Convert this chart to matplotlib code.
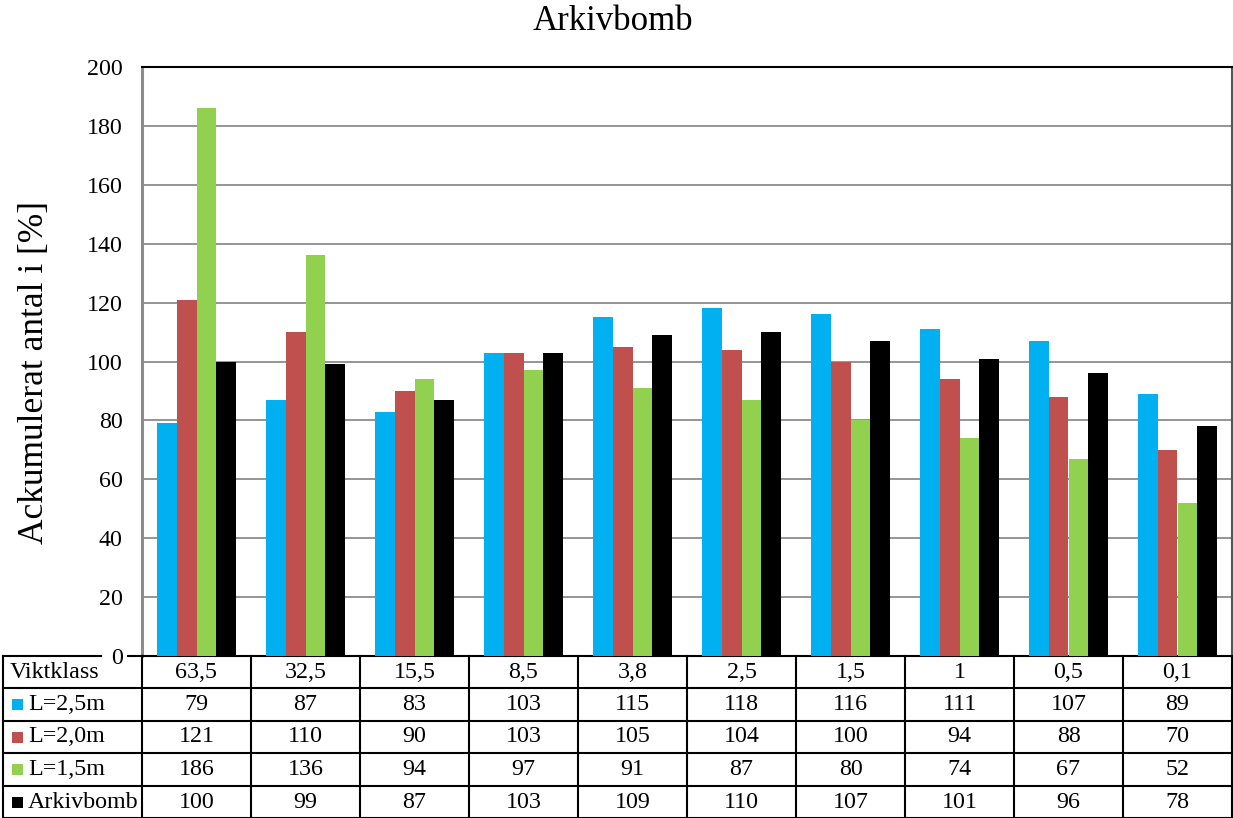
import matplotlib
matplotlib.use("Agg")
import matplotlib.pyplot as plt
from matplotlib.lines import Line2D
from matplotlib.patches import Rectangle
from matplotlib.transforms import blended_transform_factory

plt.rcParams['font.family'] = ['Liberation Serif', 'DejaVu Serif']

title = "Arkivbomb"
ylabel = "Ackumulerat antal i [%]"
row_header = "Viktklass"
categories = ["63,5", "32,5", "15,5", "8,5", "3,8", "2,5", "1,5", "1", "0,5", "0,1"]
series_names = ["L=2,5m", "L=2,0m", "L=1,5m", "Arkivbomb"]
l25 = [79, 87, 83, 103, 115, 118, 116, 111, 107, 89]
l20 = [121, 110, 90, 103, 105, 104, 100, 94, 88, 70]
l15 = [186, 136, 94, 97, 91, 87, 80, 74, 67, 52]
arkivbomb = [100, 99, 87, 103, 109, 110, 107, 101, 96, 78]
colors = ["#00B0F0", "#C0504D", "#92D050", "#000000"]
yticks = [0, 20, 40, 60, 80, 100, 120, 140, 160, 180, 200]

series = [l25, l20, l15, arkivbomb]

W, H = 1233, 818
fig = plt.figure(figsize=(W / 100, H / 100), dpi=100)

# plot area in pixel coordinates
left, right, top, bottom = 142, 1232, 67, 656
ax = fig.add_axes([left / W, (H - bottom) / H, (right - left) / W, (bottom - top) / H])

n = len(categories)
x = list(range(n))
bw = 0.183
for k, (vals, col) in enumerate(zip(series, colors)):
    off = (k - 1.5) * bw
    ax.bar([xi + off for xi in x], vals, width=bw, color=col, edgecolor='none', zorder=3)

fs = 17.3
ax.set_xlim(-0.5, n - 0.5)
ax.set_ylim(0, 200)
ax.set_yticks(yticks)
ax.set_yticklabels([str(v) for v in yticks], fontsize=fs)
ax.tick_params(axis='y', length=0, pad=14)
ax.set_xticks([])
ax.grid(axis='y', color='#8C8C8C', linewidth=1.3, zorder=0)
ax.set_axisbelow(True)
ax.spines['left'].set_color('#8C8C8C')
ax.spines['left'].set_linewidth(2.2)
for s in ('top', 'right', 'bottom'):
    ax.spines[s].set_color('#000000')
    ax.spines[s].set_linewidth(1.5)
ax.spines['right'].set_color('#555555')

fig.text(0.497, 1 - 22 / H, title, ha='center', va='center', fontsize=25)
fig.text(35 / W, 1 - 372 / H, ylabel, ha='center', va='center', rotation=90, fontsize=25.5)

# data table below the plot
row_edges = [656, 688, 721, 753, 786, 818]
fy = lambda p: 1 - p / H
fx = lambda p: p / W
tr = blended_transform_factory(ax.transData, fig.transFigure)
lw = 1.5

# horizontal lines
for i, yp in enumerate(row_edges):
    if i == 0:
        # label column top border, interrupted by the zero tick label
        fig.add_artist(Line2D([fx(3), fx(101)], [fy(yp), fy(yp)], color='black', lw=lw))
        fig.add_artist(Line2D([fx(128), fx(left)], [fy(yp), fy(yp)], color='black', lw=lw))
    else:
        fig.add_artist(Line2D([fx(3), fx(right)], [fy(yp), fy(yp)], color='black', lw=lw))

# vertical lines
fig.add_artist(Line2D([fx(3), fx(3)], [fy(656), fy(818)], color='black', lw=lw))
for b in range(n + 1):
    xb = b - 0.5
    fig.add_artist(Line2D([xb, xb], [fy(656), fy(818)], color='black', lw=lw, transform=tr))

row_labels = [row_header] + series_names
row_values = [categories] + [[str(v) for v in s] for s in series]
for r in range(5):
    yc = fy((row_edges[r] + row_edges[r + 1]) / 2)
    if r == 0:
        fig.text(fx(10), yc, row_labels[r], ha='left', va='center', fontsize=fs)
    else:
        sq = 11
        fig.add_artist(Rectangle((fx(12), yc - (sq / 2) / H), sq / W, sq / H,
                                 transform=fig.transFigure, color=colors[r - 1], lw=0))
        fig.text(fx(28), yc, row_labels[r], ha='left', va='center', fontsize=fs)
    for c in range(n):
        fig.text(c, yc, row_values[r][c], ha='center', va='center', fontsize=fs, transform=tr)

fig.savefig("out.png", dpi=100)
